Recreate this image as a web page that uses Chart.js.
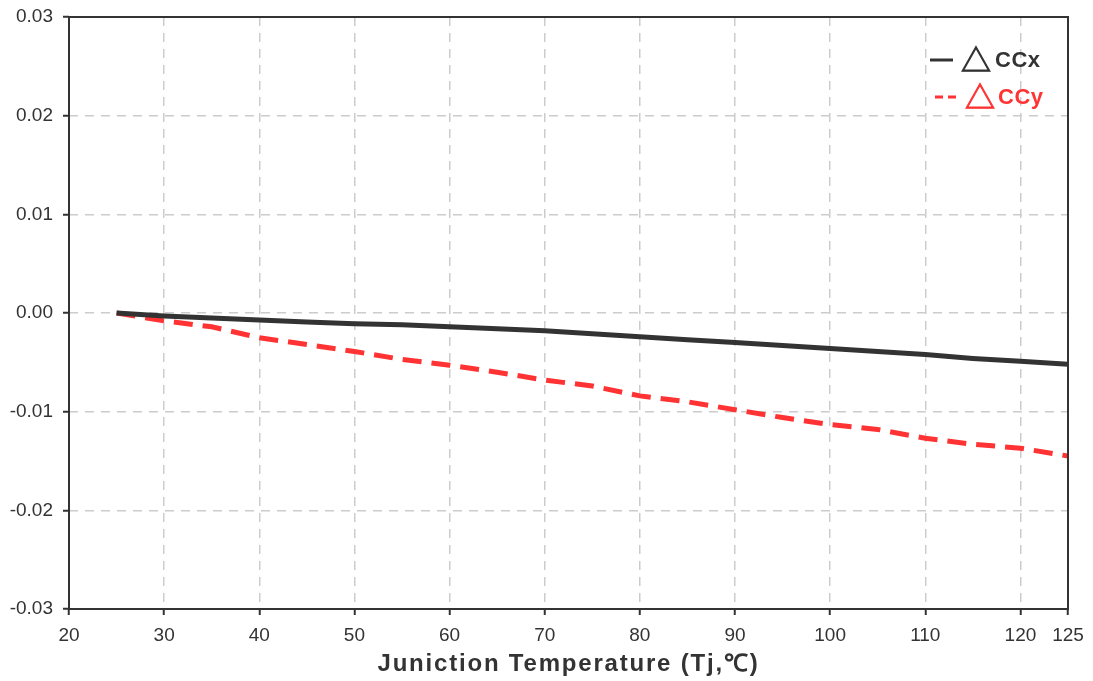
<!DOCTYPE html>
<html>
<head>
<meta charset="utf-8">
<script src="https://cdn.jsdelivr.net/npm/chart.js@4"></script>
<style>
  html, body { margin: 0; padding: 0; background: #fff; }
  #wrap { width: 1093px; height: 681px; }
</style>
</head>
<body>
<div id="wrap"><canvas id="chart" width="1093" height="681"></canvas></div>
<script>
// ── Data ────────────────────────────────────────────────────────────────────
const temps = [25, 30, 35, 40, 45, 50, 55, 60, 65, 70, 75, 80, 85, 90, 95, 100, 105, 110, 115, 120, 125];
const dCCx = [0, -0.0003, -0.0005, -0.0007, -0.0009, -0.0011, -0.0012, -0.0014, -0.0016, -0.0018, -0.0021,
  -0.0024, -0.0027, -0.003, -0.0033, -0.0036, -0.0039, -0.0042, -0.0046, -0.0049, -0.0052];
const dCCy = [0, -0.0008, -0.0014, -0.0025, -0.0032, -0.0039, -0.0047, -0.0053, -0.006, -0.0068, -0.0074,
  -0.0084, -0.009, -0.0098, -0.0106, -0.0113, -0.0118, -0.0127, -0.0133, -0.0137, -0.0145];
const xTicks = [20, 30, 40, 50, 60, 70, 80, 90, 100, 110, 120, 125];
const yTicks = [-0.03, -0.02, -0.01, 0, 0.01, 0.02, 0.03];
const seriesNames = ["CCx", "CCy"];
const xTitle = "Juniction Temperature (Tj,℃)";

const DARK = "#333333";
const RED = "#ff3333";
const GRID = "#cccccc";
const FONT = "'Liberation Sans', Arial, sans-serif";

// ── Plugins ─────────────────────────────────────────────────────────────────
const frame = {
  id: "frame",
  afterDatasetsDraw(chart) {
    const { ctx, chartArea: a } = chart;
    ctx.save();
    ctx.strokeStyle = DARK;
    ctx.lineWidth = 2;
    ctx.strokeRect(a.left, a.top, a.right - a.left, a.bottom - a.top);
    ctx.restore();
  },
};

// axis title with letter spacing (Chart.js title has none)
const spacedTitle = {
  id: "spacedTitle",
  afterDraw(chart) {
    const { ctx, chartArea: a } = chart;
    ctx.save();
    ctx.fillStyle = DARK;
    ctx.font = "bold 24px " + FONT;
    ctx.letterSpacing = "1.8px";
    ctx.textAlign = "center";
    ctx.textBaseline = "alphabetic";
    ctx.fillText(xTitle, (a.left + a.right) / 2, 671);
    ctx.restore();
  },
};

const legendBox = {
  id: "legendBox",
  afterDraw(chart) {
    const { ctx } = chart;
    const rows = [
      { y: 60, color: DARK, dash: [], x0: 930, x1: 953, tri: 962, txt: 995, name: seriesNames[0] },
      { y: 97, color: RED, dash: [8, 5], x0: 935, x1: 960, tri: 966, txt: 998, name: seriesNames[1] },
    ];
    ctx.save();
    rows.forEach((r) => {
      ctx.strokeStyle = r.color;
      ctx.lineWidth = 3;
      ctx.setLineDash(r.dash);
      ctx.beginPath();
      ctx.moveTo(r.x0, r.y);
      ctx.lineTo(r.x1, r.y);
      ctx.stroke();
      ctx.setLineDash([]);
      ctx.fillStyle = r.color;
      ctx.textBaseline = "middle";
      ctx.textAlign = "left";
      ctx.font = "30px 'Noto Sans CJK SC', 'DejaVu Sans', sans-serif";
      ctx.lineWidth = 1;
      ctx.fillText("△", r.tri - 1, r.y);
      ctx.strokeText("△", r.tri - 1, r.y);
      ctx.font = "bold 22px " + FONT;
      ctx.letterSpacing = "0.5px";
      ctx.fillText(r.name, r.txt, r.y + 1);
      ctx.letterSpacing = "0px";
    });
    ctx.restore();
  },
};

// ── Chart ───────────────────────────────────────────────────────────────────
new Chart(document.getElementById("chart"), {
  type: "line",
  data: {
    datasets: [
      {
        label: seriesNames[0],
        data: temps.map((t, i) => ({ x: t, y: dCCx[i] })),
        borderColor: DARK,
        borderWidth: 5,
        pointRadius: 0,
        tension: 0,
      },
      {
        label: seriesNames[1],
        data: temps.map((t, i) => ({ x: t, y: dCCy[i] })),
        borderColor: RED,
        borderWidth: 5,
        borderDash: [19, 10],
        pointRadius: 0,
        tension: 0,
      },
    ],
  },
  options: {
    responsive: false,
    animation: false,
    layout: { padding: { top: 17, right: 25, left: 0, bottom: 0 } },
    plugins: { legend: { display: false }, tooltip: { enabled: false } },
    scales: {
      x: {
        type: "linear",
        min: 20,
        max: 125,
        afterBuildTicks: (s) => { s.ticks = xTicks.map((v) => ({ value: v })); },
        afterFit: (s) => { s.height = 72; },
        ticks: { color: DARK, font: { family: FONT, size: 19 }, padding: 9, maxRotation: 0, autoSkip: false },
        grid: { color: GRID, lineWidth: 1.5, tickColor: DARK, tickLength: 6, tickWidth: 2 },
        border: { display: false, dash: [9, 7] },
      },
      y: {
        min: -0.03,
        max: 0.03,
        afterBuildTicks: (s) => { s.ticks = yTicks.map((v) => ({ value: v })); },
        afterFit: (s) => { s.width = 69; s.paddingTop = 0; },
        ticks: {
          color: DARK,
          font: { family: FONT, size: 19 },
          padding: 10,
          callback: (v) => v.toFixed(2),
        },
        grid: { color: GRID, lineWidth: 1.5, tickColor: DARK, tickLength: 6, tickWidth: 2 },
        border: { display: false, dash: [9, 7] },
      },
    },
  },
  plugins: [frame, spacedTitle, legendBox],
});
</script>
</body>
</html>
